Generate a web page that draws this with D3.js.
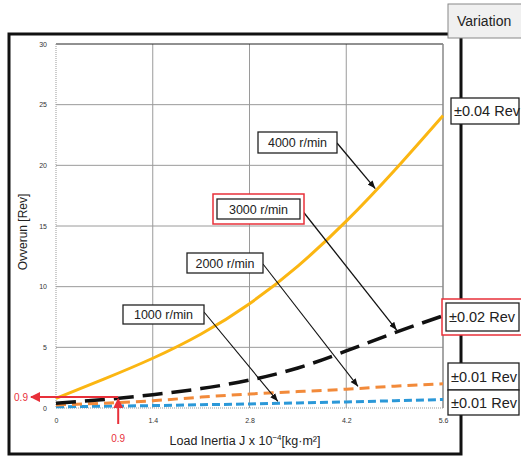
<!DOCTYPE html>
<html><head><meta charset="utf-8">
<script src="https://cdn.jsdelivr.net/npm/d3@7/dist/d3.min.js"></script>
<style>body{margin:0;background:#fff}svg{display:block;font-family:"Liberation Sans",Arial,sans-serif}</style>
</head><body><svg id="c" width="521" height="458"></svg>
<script>
const jValues = [0, 0.7, 1.4, 2.1, 2.8, 3.5, 4.2, 4.9, 5.6];
const rpm4000 = [0.8, 2.4, 4.1, 6.1, 8.6, 11.7, 15.4, 19.6, 24.1];
const rpm3000 = [0.4, 0.7, 1.1, 1.6, 2.3, 3.3, 4.7, 6.2, 7.6];
const rpm2000 = [0.25, 0.4, 0.6, 0.9, 1.15, 1.35, 1.55, 1.8, 2.0];
const rpm1000 = [0.1, 0.15, 0.2, 0.27, 0.33, 0.42, 0.5, 0.6, 0.7];
const xTicks = [0, 1.4, 2.8, 4.2, 5.6];
const xTickLabels = ["0", "1.4", "2.8", "4.2", "5.6"];
const yTicks = [0, 5, 10, 15, 20, 25, 30];
const seriesNames = ["4000 r/min", "3000 r/min", "2000 r/min", "1000 r/min"];
const variations = ["±0.04 Rev", "±0.02 Rev", "±0.01 Rev", "±0.01 Rev"];
const markJ = 0.9, markV = 0.9;

const svg = d3.select("#c");
const x = d3.scaleLinear().domain([0, 5.6]).range([56, 443]);
const y = d3.scaleLinear().domain([0, 30]).range([408, 44]);

// outer frame
svg.append("rect").attr("x", 9).attr("y", 34).attr("width", 452).attr("height", 420)
  .attr("fill", "none").attr("stroke", "#111").attr("stroke-width", 3);

// grid
const g = svg.append("g");
g.selectAll(".vg").data(xTicks.slice(1, -1)).enter().append("line")
  .attr("x1", d => x(d)).attr("x2", d => x(d)).attr("y1", y(30)).attr("y2", y(0))
  .attr("stroke", "#9a9a9a").attr("stroke-width", 1);
g.selectAll(".hg").data(yTicks.slice(1, -1)).enter().append("line")
  .attr("x1", x(0)).attr("x2", x(5.6)).attr("y1", d => y(d)).attr("y2", d => y(d))
  .attr("stroke", "#9a9a9a").attr("stroke-width", 1);
g.append("line").attr("x1", x(0)).attr("x2", x(5.6)).attr("y1", y(30)).attr("y2", y(30)).attr("stroke", "#222").attr("stroke-width", 1);
g.append("line").attr("x1", x(5.6)).attr("x2", x(5.6)).attr("y1", y(30)).attr("y2", y(0)).attr("stroke", "#888").attr("stroke-width", 1.5);
g.append("line").attr("x1", x(0)).attr("x2", x(0)).attr("y1", y(30)).attr("y2", y(0)).attr("stroke", "#999").attr("stroke-dasharray", "1,1");
g.append("line").attr("x1", x(0)).attr("x2", x(5.6)).attr("y1", y(0)).attr("y2", y(0)).attr("stroke", "#999").attr("stroke-dasharray", "1,1");

// axes (labels only)
const xAxis = d3.axisBottom(x).tickValues(xTicks).tickFormat((d, i) => xTickLabels[i]).tickSize(0).tickPadding(10);
const xa = svg.append("g").attr("transform", `translate(0,${y(0)})`).call(xAxis);
xa.select(".domain").remove();
xa.selectAll("text").attr("font-size", 7).attr("fill", "#333").attr("font-family", "Liberation Sans, Arial, sans-serif");
const yAxis = d3.axisLeft(y).tickValues(yTicks).tickSize(0).tickPadding(9);
const ya = svg.append("g").attr("transform", `translate(${x(0)},0)`).call(yAxis);
ya.select(".domain").remove();
ya.selectAll("text").attr("font-size", 7).attr("fill", "#333").attr("font-family", "Liberation Sans, Arial, sans-serif");

// axis titles
svg.append("text").attr("transform", `translate(27,232) rotate(-90)`).attr("text-anchor", "middle")
  .attr("font-size", 12).attr("fill", "#222").text("Ovverun [Rev]");
const xt = svg.append("text").attr("x", 245).attr("y", 445).attr("text-anchor", "middle").attr("font-size", 12.5).attr("fill", "#222");
xt.append("tspan").text("Load Inertia J x 10");
xt.append("tspan").attr("dy", -5).attr("font-size", 8).text("−4");
xt.append("tspan").attr("dy", 5).text("[kg·m²]");

// series
const seriesData = [
  {vals: rpm4000, color: "#fbb612", dash: null, w: 3},
  {vals: rpm3000, color: "#111", dash: "20,9", w: 3.5},
  {vals: rpm2000, color: "#f28a3a", dash: "10,6", w: 3},
  {vals: rpm1000, color: "#2b98d8", dash: "8,4", w: 3}
];
const line = d3.line().x((d, i) => x(jValues[i])).y(d => y(d)).curve(d3.curveNatural);
seriesData.slice().reverse().forEach(s => {
  svg.append("path").attr("d", line(s.vals)).attr("fill", "none").attr("stroke", s.color)
    .attr("stroke-width", s.w).attr("stroke-dasharray", s.dash);
});

// annotation boxes with arrows
svg.append("defs").append("marker").attr("id", "ah").attr("viewBox", "0 0 10 10").attr("refX", 10).attr("refY", 5)
  .attr("markerWidth", 8).attr("markerHeight", 8).attr("markerUnits", "userSpaceOnUse").attr("orient", "auto")
  .append("path").attr("d", "M0,1 L10,5 L0,9 Z").attr("fill", "#111");
const valAt = (vals, j) => {
  const i = Math.min(jValues.length - 2, Math.floor(j / 0.7));
  const t = (j - jValues[i]) / (jValues[i + 1] - jValues[i]);
  return vals[i] + t * (vals[i + 1] - vals[i]);
};
const notes = [
  {bx: 258, by: 132, bw: 79, bh: 21, tipJ: 4.62, sx: 337, sy: 143, red: false},
  {bx: 217, by: 199, bw: 83, bh: 20, tipJ: 4.93, sx: 301, sy: 209, red: true},
  {bx: 187, by: 253, bw: 76, bh: 20, tipJ: 4.37, sx: 263, sy: 264, red: false},
  {bx: 123, by: 305, bw: 81, bh: 19, tipJ: 3.21, sx: 204, sy: 312, red: false}
];
notes.forEach((n, i) => {
  const tx = x(n.tipJ), ty = y(valAt(seriesData[i].vals, n.tipJ)) - 2;
  svg.append("line").attr("x1", n.sx).attr("y1", n.sy).attr("x2", tx).attr("y2", ty)
    .attr("stroke", "#111").attr("stroke-width", i < 2 ? 1.3 : 1.1).attr("marker-end", "url(#ah)");
  if (n.red) svg.append("rect").attr("x", n.bx - 4).attr("y", n.by - 5).attr("width", n.bw + 8).attr("height", n.bh + 10)
    .attr("fill", "#fff").attr("stroke", "#e8303a").attr("stroke-width", 1.5);
  svg.append("rect").attr("x", n.bx).attr("y", n.by).attr("width", n.bw).attr("height", n.bh)
    .attr("fill", "#fff").attr("stroke", "#222").attr("stroke-width", 1.3);
  svg.append("text").attr("x", n.bx + n.bw / 2).attr("y", n.by + n.bh / 2 + 4.5).attr("text-anchor", "middle")
    .attr("font-size", 12.5).attr("fill", "#222").text(seriesNames[i]);
});

// variation boxes
svg.append("rect").attr("x", 448).attr("y", 4).attr("width", 80).attr("height", 34).attr("fill", "#f0f0f0").attr("stroke", "#888").attr("stroke-width", 1);
svg.append("text").attr("x", 457).attr("y", 26).attr("font-size", 14).attr("fill", "#222").text("Variation");
const vBoxes = [
  {bx: 451, by: 98, bh: 26, red: false},
  {bx: 446, by: 303, bh: 28, red: true},
  {bx: 448, by: 363, bh: 27, red: false},
  {bx: 448, by: 390, bh: 25, red: false}
];
vBoxes.forEach((b, i) => {
  if (b.red) svg.append("rect").attr("x", b.bx - 4).attr("y", b.by - 4).attr("width", 90).attr("height", b.bh + 8)
    .attr("fill", "#fff").attr("stroke", "#e8303a").attr("stroke-width", 1.5);
  svg.append("rect").attr("x", b.bx).attr("y", b.by).attr("width", 521 - b.bx - 2).attr("height", b.bh)
    .attr("fill", "#fff").attr("stroke", "#222").attr("stroke-width", 1.3);
  svg.append("text").attr("x", b.bx + 3).attr("y", b.by + b.bh / 2 + 5).attr("font-size", 14.5).attr("fill", "#222").text(variations[i]);
});

// red 0.9 markers
const red = "#e8303a";
svg.append("defs").append("marker").attr("id", "rh").attr("viewBox", "0 0 10 10").attr("refX", 9).attr("refY", 5)
  .attr("markerWidth", 10).attr("markerHeight", 10).attr("markerUnits", "userSpaceOnUse").attr("orient", "auto")
  .append("path").attr("d", "M0,0 L10,5 L0,10 Z").attr("fill", red);
svg.append("line").attr("x1", x(markJ)).attr("y1", y(markV)).attr("x2", 31).attr("y2", y(markV))
  .attr("stroke", red).attr("stroke-width", 2).attr("marker-end", "url(#rh)");
svg.append("line").attr("x1", x(markJ)).attr("y1", 424).attr("x2", x(markJ)).attr("y2", y(markV) + 2)
  .attr("stroke", red).attr("stroke-width", 2).attr("marker-end", "url(#rh)");
svg.append("text").attr("x", 21).attr("y", y(markV) + 4).attr("text-anchor", "middle").attr("font-size", 10).attr("fill", red).text(markV);
svg.append("text").attr("x", x(markJ)).attr("y", 442).attr("text-anchor", "middle").attr("font-size", 10).attr("fill", red).text(markJ);
</script></body></html>
